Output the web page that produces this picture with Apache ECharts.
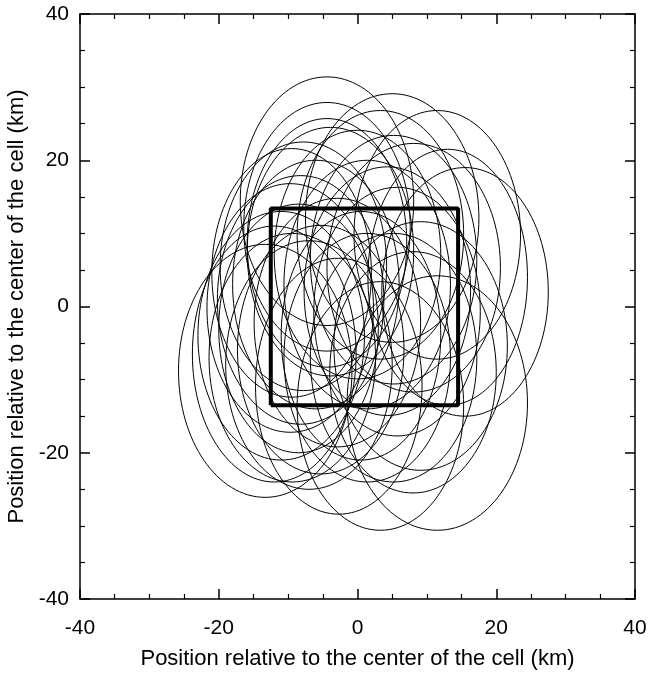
<!DOCTYPE html>
<html>
<head>
<meta charset="utf-8">
<script src="https://cdn.jsdelivr.net/npm/echarts@6/dist/echarts.min.js"></script>
<style>
  html, body { margin: 0; padding: 0; background: #fff; }
  #chart { width: 650px; height: 673px; }
</style>
</head>
<body>
<div id="chart"></div>
<script>
// ellipse centers and half axes (km)
const centerX = [-4.4, 5.0, 11.5, -4.4, 3.3, -4.4, -3.9, -7.8, -9.5, 0.0, 5.2, 8.1,
  15.5, -8.2, -9.7, 1.4, 4.3, 5.7, -13.3, -2.7, 11.5, 3.3, -9.4, -12.0, -5.3, 1.4,
  5.2, 9.1, -2.9, -11.0, -8.5, -7.0, 13.0, 0.5, 8.0, -6.0];
const centerY = [14.4, 12.1, 9.8, 10.9, 9.8, 8.7, 7.5, 5.5, 4.6, 7.1, 6.4, 5.3,
  2.0, 0.9, -0.2, 3.0, 2.1, -0.7, -8.8, -10.9, -13.2, -13.6, -7.0, -6.5, -5.9, -7.0,
  -7.0, -5.4, -2.2, -4.0, -3.0, -8.0, 4.0, -4.0, -9.0, 3.0];
const radiusX = [12.5, 12.5, 12.0, 12.0, 12.0, 11.5, 12.0, 12.0, 11.5, 12.0, 12.0, 12.5,
  12.0, 12.0, 12.0, 12.0, 12.0, 12.0, 12.5, 12.0, 13.0, 12.0, 12.0, 11.8, 12.0, 12.0,
  12.0, 12.5, 12.0, 12.0, 11.5, 12.0, 11.5, 11.5, 12.0, 12.0];
const radiusY = [17.0, 17.0, 17.0, 17.0, 17.0, 17.0, 17.0, 17.0, 17.0, 17.0, 17.0, 17.0,
  17.0, 17.0, 17.0, 17.0, 17.0, 17.0, 17.3, 17.5, 17.4, 17.0, 17.0, 17.5, 17.0, 17.0,
  17.0, 17.0, 17.0, 17.0, 17.0, 17.0, 17.5, 17.0, 16.5, 17.0];

// the cell (square)
const cellX = [-12.5, -12.5, 14.5, 14.5, -12.5];
const cellY = [-13.5, 13.4, 13.4, -13.5, -13.5];

const axisTicks = [-40, -20, 0, 20, 40];
const axisName = 'Position relative to the center of the cell (km)';

const ellipseData = centerX.map((x, i) => [x, centerY[i], radiusX[i], radiusY[i]]);
const cellData = cellX.map((x, i) => [x, cellY[i]]);

const font = 'Liberation Sans, Arial, Helvetica, sans-serif';

function baseAxis(pos, showLabel) {
  return {
    type: 'value',
    position: pos,
    min: axisTicks[0],
    max: axisTicks[axisTicks.length - 1],
    interval: 20,
    axisLine: { show: true, onZero: false, lineStyle: { color: '#000', width: 1.5 } },
    axisTick: { show: true, inside: true, length: 10, lineStyle: { color: '#000', width: 1.5 } },
    minorTick: { show: true, splitNumber: 4, length: 5, lineStyle: { color: '#000', width: 1.2 } },
    splitLine: { show: false },
    axisLabel: { show: showLabel, color: '#000', fontSize: 21, fontFamily: font }
  };
}

const chart = echarts.init(document.getElementById('chart'));
const xMain = baseAxis('bottom', true);
xMain.axisLabel.margin = 19;
xMain.name = axisName;
xMain.nameLocation = 'middle';
xMain.nameGap = 49;
xMain.nameTextStyle = { color: '#000', fontSize: 22, fontFamily: font };
const yMain = baseAxis('left', true);
yMain.axisLabel.margin = 11;
yMain.name = axisName;
yMain.nameLocation = 'middle';
yMain.nameGap = 50;
yMain.nameTextStyle = { color: '#000', fontSize: 22, fontFamily: font };

chart.setOption({
  animation: false,
  backgroundColor: '#fff',
  grid: { left: 80, right: 15, top: 14, bottom: 74, outerBoundsMode: 'none' },
  xAxis: [xMain, baseAxis('top', false)],
  yAxis: [yMain, baseAxis('right', false)],
  series: [
    {
      type: 'custom',
      xAxisIndex: 0,
      yAxisIndex: 0,
      data: ellipseData,
      renderItem: function (params, api) {
        const c = api.coord([api.value(0), api.value(1)]);
        const s = api.size([api.value(2), api.value(3)]);
        return {
          type: 'ellipse',
          shape: { cx: c[0], cy: c[1], rx: s[0], ry: s[1] },
          style: { fill: 'none', stroke: '#000', lineWidth: 1 }
        };
      }
    },
    {
      type: 'line',
      xAxisIndex: 0,
      yAxisIndex: 0,
      data: cellData,
      symbol: 'none',
      lineStyle: { color: '#000', width: 4 },
      z: 5
    }
  ]
});
</script>
</body>
</html>
